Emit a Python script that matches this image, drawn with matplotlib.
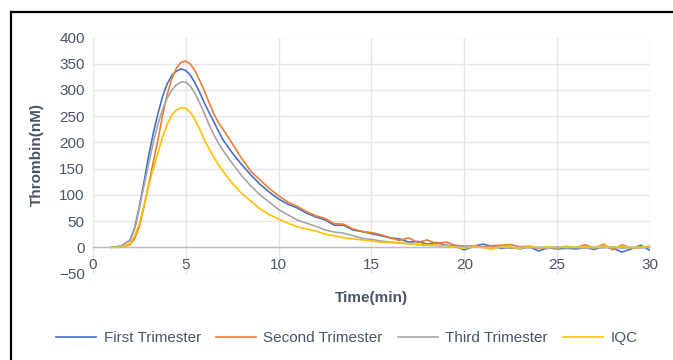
import numpy as np
import matplotlib
matplotlib.use("Agg")
import matplotlib.pyplot as plt
from matplotlib.lines import Line2D

plt.rcParams["font.family"] = ["Liberation Sans", "DejaVu Sans"]

# time axis, minutes: finer steps around the peak
time_min = np.concatenate([
    np.arange(1.0, 2.0, 0.5),
    np.arange(2.0, 7.0, 0.25),
    np.arange(7.0, 30.01, 0.5),
])

first_trimester = [
    0, 2,
    14, 38, 78, 125, 175, 218, 255, 288, 312, 328,
    336, 340, 337, 328, 313, 295, 275, 257, 240, 222,
    205, 180, 158, 138, 120, 105, 92, 82,
    75, 65, 58, 52, 42, 42, 33, 30, 26, 22,
    18, 16, 10, 11, 6, 9, 4, 2, -5, 2,
    6, 2, -2, 0, -3, 1, -7, -1, -3, -2,
    -3, -1, -4, 1, -2, -9, -3, 4, -6,
]
second_trimester = [
    0, 0,
    5, 17, 40, 78, 120, 163, 205, 252, 292, 322,
    342, 353, 355, 349, 336, 318, 298, 276, 255, 238,
    225, 198, 170, 145, 128, 112, 98, 86,
    78, 68, 60, 55, 45, 44, 35, 30, 28, 24,
    18, 13, 18, 9, 14, 7, 10, 4, 2, 3,
    1, 3, 4, 5, 1, 2, -2, 0, -1, 1,
    -1, 5, -2, 6, -5, 5, -2, 0, 2,
]
third_trimester = [
    0, 2,
    13, 36, 75, 118, 160, 200, 235, 263, 285, 300,
    310, 315, 315, 307, 293, 275, 255, 234, 215, 199,
    185, 160, 137, 117, 100, 86, 72, 62,
    52, 46, 40, 33, 29, 27, 22, 17, 15, 12,
    10, 8, 7, 5, 4, 3, 3, 1, 2, 1,
    0, -1, 1, -2, 0, -1, 0, -2, 1, -1,
    0, -2, 0, -1, 1, -2, 0, -1, 0,
]
iqc = [
    0, 0,
    7, 22, 45, 80, 118, 150, 180, 210, 235, 252,
    262, 266, 265, 257, 243, 225, 205, 188, 172, 158,
    145, 122, 103, 88, 73, 62, 54, 46,
    39, 35, 31, 25, 22, 18, 16, 14, 12, 10,
    9, 8, 7, 5, 5, 4, 3, 0, -2, 2,
    -1, -4, 2, 0, -2, 2, -1, 1, -1, 2,
    0, 1, -1, 3, -1, 2, -1, 1, 0,
]

series = [
    ("First Trimester", first_trimester, "#4472C4"),
    ("Second Trimester", second_trimester, "#ED7D31"),
    ("Third Trimester", third_trimester, "#A5A5A5"),
    ("IQC", iqc, "#FFC000"),
]

TXT = "#4A5568"
GRID = "#E3E6EC"

fig = plt.figure(figsize=(6.73, 3.6), dpi=100)
ax = fig.add_axes([93 / 673, 1 - 273.5 / 360, 557 / 673, 236 / 360])

for name, vals, col in series:
    ax.plot(time_min, vals, color=col, lw=1.2, label=name)

ax.set_xlim(0, 30)
ax.set_ylim(-50, 400)
ax.set_xticks(range(0, 31, 5))
ax.set_yticks(range(-50, 401, 50))
ax.grid(True, color=GRID, lw=1.0)
ax.set_axisbelow(True)
for s in ["top", "right", "left"]:
    ax.spines[s].set_visible(False)
ax.spines["bottom"].set_position(("data", 0))
ax.spines["bottom"].set_color("#B7BCC6")
ax.spines["bottom"].set_linewidth(1.0)
ax.tick_params(length=0, labelsize=11, colors=TXT)
ax.tick_params(axis="x", pad=8)
ax.tick_params(axis="y", pad=6)

fig.text(371.5 / 673, 1 - 298 / 360, "Time(min)", ha="center", va="center",
         fontsize=11, fontweight="bold", color=TXT)
fig.text(37 / 673, 1 - 155 / 360, "Thrombin(nM)", ha="center", va="center",
         rotation=90, fontsize=11, fontweight="bold", color=TXT)

leg = fig.legend(loc="center", bbox_to_anchor=(347 / 673, 1 - 338 / 360), ncol=4,
                 frameon=False, fontsize=11, handlelength=2.6,
                 handletextpad=0.5, columnspacing=1.0)
for t in leg.get_texts():
    t.set_color(TXT)

# outer black frame (cut off at right and bottom)
fig.add_artist(Line2D([11 / 673, 1.0], [1 - 12 / 360] * 2, color="black",
                      lw=1.6, transform=fig.transFigure))
fig.add_artist(Line2D([11 / 673] * 2, [0.0, 1 - 12 / 360], color="black",
                      lw=1.6, transform=fig.transFigure))

fig.savefig("out.png", dpi=100)
